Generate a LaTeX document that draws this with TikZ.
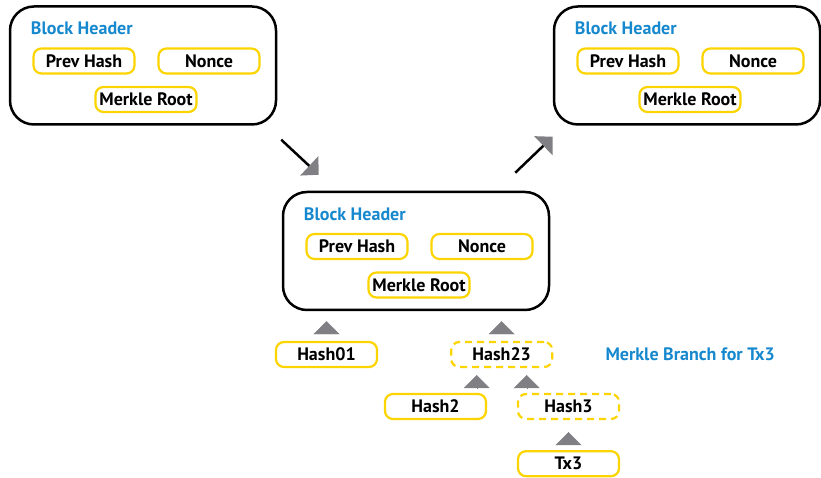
\documentclass[tikz,border=0pt]{standalone}
\usepackage{fontspec}
\setmainfont{PT Sans}
\usetikzlibrary{arrows.meta,positioning}
\definecolor{hdrblue}{RGB}{22,136,206}
\definecolor{fieldyellow}{RGB}{252,212,0}
\definecolor{tipgray}{RGB}{128,128,132}
\begin{document}
\begin{tikzpicture}[x=1pt, y=1pt, font=\bfseries\fontsize{18}{20}\selectfont,
	block/.style={draw, line width=2.5pt, rounded corners=24pt, minimum width=266pt, minimum height=118pt, inner sep=0pt},
	field/.style={draw=fieldyellow, line width=2.2pt, rounded corners=8pt, minimum width=101pt, minimum height=25pt, inner sep=0pt},
	branch/.style={field, dash pattern=on 7pt off 5pt},
	title/.style={text=hdrblue, inner sep=0pt},
	hop/.style={-{Triangle[length=13pt, width=26pt]}, tipgray, line width=0.4pt},
	link/.style={line width=2.5pt, -{Triangle[length=13pt, width=26pt, color=tipgray]}}]
			\useasboundingbox (0,0) rectangle (821,478);
			% Block headers
			\foreach \name/\x/\y in {prev/143/412.5, next/687/412.5, cur/416/227} {
				\node[block] (\name) at (\x,\y) {};
				\node[title, anchor=base west] (\name-title) at ([shift={(22,30.5)}]\name.center -| \name.west) {Block Header};
				\node[field] (\name-ph) at ([shift={(-59,4.5)}]\name.center) {Prev Hash};
				\node[field] (\name-nc) at ([shift={(66,4.5)}]\name.center) {Nonce};
				\node[field] (\name-mr) at ([shift={(3,-34)}]\name.center) {Merkle Root};
			}
			% Chain
			\draw[link] ([shift={(4,-14)}]prev.south east) -- ([shift={(37,16)}]cur.north west);
			\draw[link] ([shift={(-35,18)}]cur.north east) -- ([shift={(0,-11)}]next.south west);
			% Merkle branch
			\node[field] (hash01) at (326.5,123.5) {Hash01};
			\node[branch, right=72pt of hash01] (hash23) {Hash23};
			\node[field] (hash2) at (435.5,71.5) {Hash2};
			\node[branch] (hash3) at (568.5,71.5) {Hash3};
			\node[field, below=30pt of hash3] (tx3) {Tx3};
			\node[title, right=52pt of hash23] (branch-label) {Merkle Branch for Tx3};
			\coordinate (in2) at ([xshift=-25pt]hash23.south);
			\coordinate (in3) at ([xshift=25pt]hash23.south);
			\draw[hop, shorten <=8pt, shorten >=10pt] (hash01.north) -- (hash01.north |- cur.south);
			\draw[hop, shorten <=8pt, shorten >=10pt] (hash23.north) -- (hash23.north |- cur.south);
			\draw[hop, shorten <=5pt, shorten >=7pt] (in2 |- hash2.north) -- (in2);
			\draw[hop, shorten <=5pt, shorten >=7pt] (in3 |- hash3.north) -- (in3);
			\draw[hop, shorten <=6pt, shorten >=12pt] (tx3.north) -- (hash3.south);
\end{tikzpicture}
\end{document}
